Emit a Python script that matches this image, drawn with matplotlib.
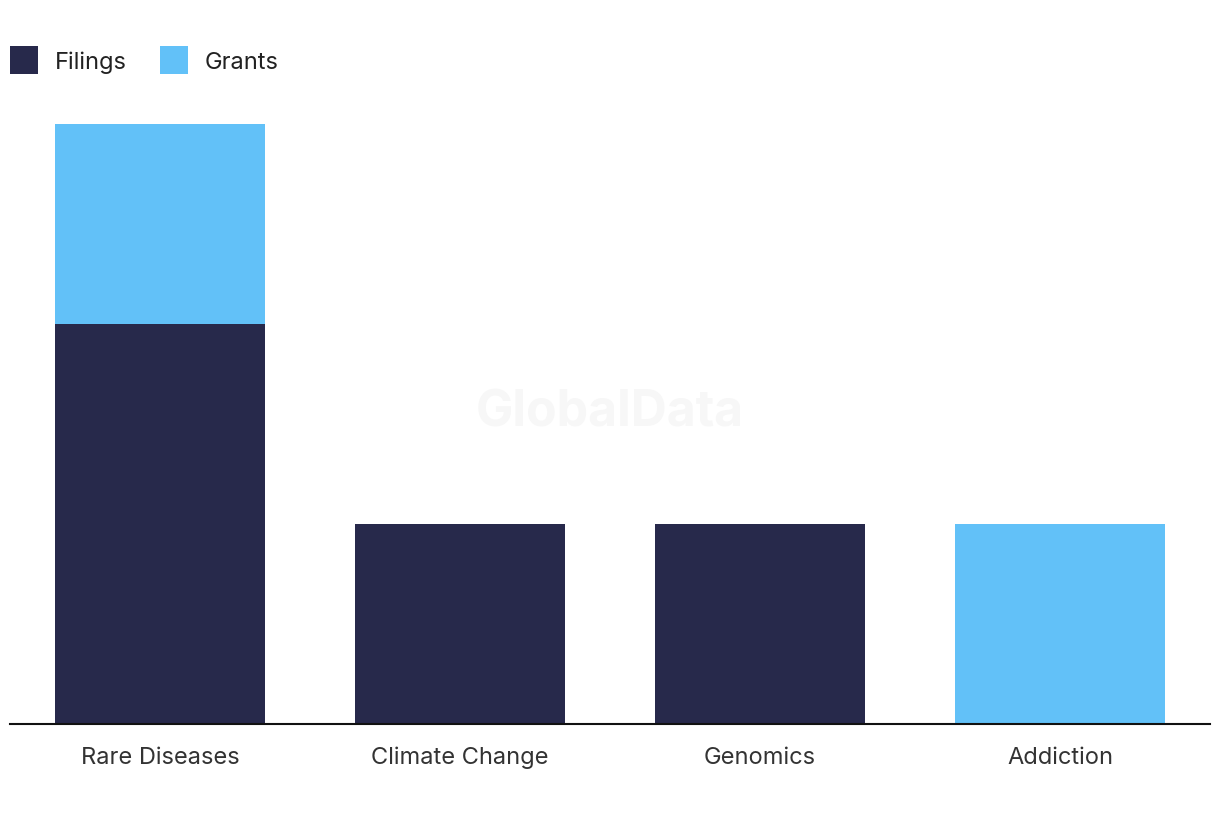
import matplotlib
matplotlib.use("Agg")
import matplotlib.pyplot as plt
import numpy as np

categories = ["Rare Diseases", "Climate Change", "Genomics", "Addiction"]
filings = [2, 1, 1, 0]
grants = [1, 0, 0, 1]

NAVY = "#27294B"
BLUE = "#62C1F8"

plt.rcParams['font.family'] = ['Inter', 'DejaVu Sans']

fig = plt.figure(figsize=(12.2, 8.2), dpi=100)
W, H = 1220, 820
ax = fig.add_axes([10 / W, 95 / H, 1200 / W, 600 / H])

x = np.arange(len(categories))
ax.bar(x, filings, width=0.7, color=NAVY, label="Filings")
ax.bar(x, grants, width=0.7, bottom=filings, color=BLUE, label="Grants")

ax.set_xlim(-0.5, len(categories) - 0.5)
ax.set_ylim(0, 3)
for s in ["top", "right", "left"]:
    ax.spines[s].set_visible(False)
ax.spines["bottom"].set_color("#111111")
ax.spines["bottom"].set_linewidth(1.5)
ax.set_yticks([])
ax.set_xticks(x)
ax.set_xticklabels(categories, fontsize=17, color="#333333")
ax.tick_params(axis="x", length=0, pad=28)
for lbl in ax.get_xticklabels():
    lbl.set_verticalalignment("baseline")

fig.text(610 / W, 1 - 413 / H, "GlobalData", ha="center", va="center",
         fontsize=36, fontweight="bold", color="#F7F7F7", zorder=0)

leg = fig.legend(loc="upper left", bbox_to_anchor=(1 / W, 1 - 38 / H), ncol=2,
                 frameon=False, fontsize=17, handlelength=1.18, handleheight=1.4,
                 handletextpad=0.7, columnspacing=1.4, labelcolor="#222222",
                 borderaxespad=0)

fig.savefig("out.png", dpi=100, facecolor="white")
